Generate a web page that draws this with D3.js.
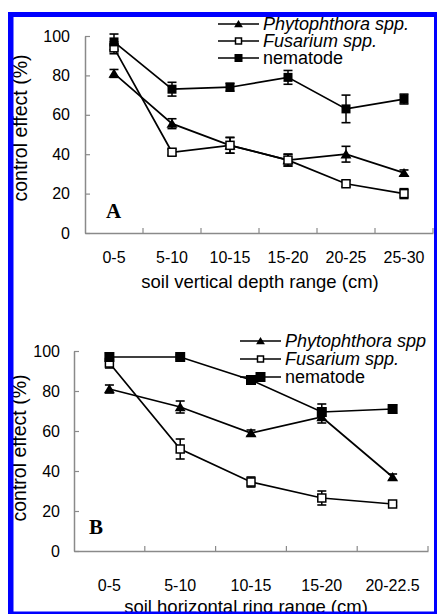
<!DOCTYPE html>
<html><head><meta charset="utf-8">
<script src="https://cdn.jsdelivr.net/npm/d3@7"></script>
<style>body{margin:0;background:#fff}svg{display:block}</style>
</head><body>
<script>
// ---- data ----
const catsA = ["0-5","5-10","10-15","15-20","20-25","25-30"];
const phytoA = [81, 55.5, 44.5, 37, 40, 30.5];
const phytoErrA = [2, 2.5, 4, 3, 4, 1.5];
const fusA = [94, 41, 44.5, 37, 25, 20];
const fusErrA = [3, 1.5, 4, 3, 1.5, 2.5];
const nemA = [97, 73, 74, 79, 63, 68];
const nemErrA = [4, 3.5, 2, 3.5, 7, 2.5];

const catsB = ["0-5","5-10","10-15","15-20","20-22.5"];
const phytoB = [81, 72, 59, 67, 37];
const phytoErrB = [2, 3, 1.5, 3, 1.5];
const fusB = [94, 51, 34.5, 26.5, 23.5];
const fusErrB = [2.5, 5, 2.5, 3.5, 1];
const nemB = [97, 97, 85.5, 69.5, 71];
const nemErrB = [2, 1, 1.5, 4, 2];

const yTicks = [0, 20, 40, 60, 80, 100];
const seriesNames = ["Phytophthora spp.", "Fusarium spp.", "nematode"];
const seriesNamesB = ["Phytophthora spp", "Fusarium spp.", "nematode"];

const W = 437, H = 614;
const svg = d3.select("body").append("svg").attr("width", W).attr("height", H);
const FONT = "'Liberation Sans', Arial, sans-serif";

function marker(g, type, cx, cy, s) {
  if (type === "tri") {
    g.append("path").attr("d", `M${cx},${cy - s*0.5}L${cx + s*0.55},${cy + s*0.42}L${cx - s*0.55},${cy + s*0.42}Z`).attr("fill", "#000");
  } else if (type === "open") {
    g.append("rect").attr("x", cx - s/2).attr("y", cy - s/2).attr("width", s).attr("height", s)
      .attr("fill", "#fff").attr("stroke", "#000").attr("stroke-width", 1.5);
  } else {
    g.append("rect").attr("x", cx - s/2).attr("y", cy - s/2).attr("width", s).attr("height", s).attr("fill", "#000");
  }
}

function panel(cfg) {
  const x = d3.scaleBand().domain(cfg.cats).range([cfg.x0, cfg.x1]).padding(0);
  const y = d3.scaleLinear().domain([0, 100]).range([cfg.yb, cfg.yt]);
  const g = svg.append("g");

  // y axis
  const ya = g.append("g").attr("transform", `translate(${cfg.x0},0)`)
    .call(d3.axisLeft(y).tickValues(yTicks).tickSizeInner(-5).tickSizeOuter(0).tickPadding(cfg.ypad));
  ya.select(".domain").attr("stroke", "#8a8a8a").attr("stroke-width", 1.5);
  ya.selectAll(".tick line").attr("stroke", "#8a8a8a").attr("stroke-width", 1.2);
  ya.selectAll(".tick text").attr("font-family", FONT).attr("font-size", 16).attr("fill", "#000");

  // x axis
  const xa = g.append("g").attr("transform", `translate(0,${cfg.yb})`)
    .call(d3.axisBottom(x).tickSizeInner(0).tickSizeOuter(0).tickPadding(cfg.xpad));
  xa.select(".domain").attr("stroke", "#8a8a8a").attr("stroke-width", 1.5);
  xa.selectAll(".tick text").attr("font-family", FONT).attr("font-size", 16).attr("fill", "#000");
  const bounds = cfg.cats.map(c => x(c) + x.bandwidth());
  g.selectAll(".xt").data(bounds).enter().append("line")
    .attr("x1", d => d).attr("x2", d => d).attr("y1", cfg.yb).attr("y2", cfg.yb - 5)
    .attr("stroke", "#8a8a8a").attr("stroke-width", 1.2);

  // titles
  g.append("text").attr("x", cfg.xtX).attr("y", cfg.xtY).attr("text-anchor", "middle")
    .attr("font-family", FONT).attr("font-size", 18.5).text(cfg.xtitle);
  g.append("text").attr("transform", `translate(${cfg.ytX},${cfg.ytY}) rotate(-90)`).attr("text-anchor", "middle")
    .attr("font-family", FONT).attr("font-size", 19.5).text("control effect (%)");
  g.append("text").attr("x", cfg.lblX).attr("y", cfg.lblY)
    .attr("font-family", "'Liberation Serif', 'Times New Roman', serif").attr("font-weight", "bold")
    .attr("font-size", 21).text(cfg.label);

  const cx = c => x(c) + x.bandwidth() / 2;
  const series = [
    {vals: cfg.phyto, err: cfg.phytoErr, type: "tri", size: cfg.triS},
    {vals: cfg.fus, err: cfg.fusErr, type: "open", size: cfg.openS},
    {vals: cfg.nem, err: cfg.nemErr, type: "fill", size: cfg.fillS}
  ];
  const line = d3.line().x((d, i) => cx(cfg.cats[i])).y(d => y(d));
  series.forEach(s => {
    g.append("path").attr("d", line(s.vals)).attr("fill", "none").attr("stroke", "#000").attr("stroke-width", 1.7);
  });
  series.forEach(s => {
    s.vals.forEach((v, i) => {
      const px = cx(cfg.cats[i]);
      const e = s.err[i];
      g.append("line").attr("x1", px).attr("x2", px).attr("y1", y(v - e)).attr("y2", y(v + e)).attr("stroke", "#000").attr("stroke-width", 1.5);
      [v - e, v + e].forEach(w => g.append("line").attr("x1", px - 4.5).attr("x2", px + 4.5).attr("y1", y(w)).attr("y2", y(w)).attr("stroke", "#000").attr("stroke-width", 1.6));
    });
  });
  series.forEach(s => {
    s.vals.forEach((v, i) => marker(g, s.type, cx(cfg.cats[i]), y(v), s.size));
  });

  // legend
  const types = ["tri", "open", "fill"];
  const lsz = cfg.legSizes;
  cfg.legNames.forEach((name, i) => {
    const ly = cfg.legY[i];
    g.append("line").attr("x1", cfg.legX0).attr("x2", cfg.legX1).attr("y1", ly).attr("y2", ly).attr("stroke", "#000").attr("stroke-width", 1.7);
    marker(g, types[i], (cfg.legX0 + cfg.legX1) / 2, ly, lsz[i]);
    g.append("text").attr("x", cfg.legX1 + 4).attr("y", ly + 6).attr("font-family", FONT).attr("font-size", 18)
      .attr("font-style", i < 2 ? "italic" : "normal").text(name);
  });
}

panel({cats: catsA, x0: 85, x1: 433, yb: 233, yt: 36, ypad: 15, xpad: 18.5,
  phyto: phytoA, phytoErr: phytoErrA, fus: fusA, fusErr: fusErrA, nem: nemA, nemErr: nemErrA,
  triS: 10, openS: 8, fillS: 9,
  xtitle: "soil vertical depth range (cm)", xtX: 260, xtY: 288,
  ytX: 27, ytY: 128, label: "A", lblX: 106, lblY: 218,
  legNames: seriesNames, legX0: 218, legX1: 259, legY: [24, 41, 58], legSizes: [8, 6, 8]});

panel({cats: catsB, x0: 74, x1: 428, yb: 551, yt: 351, ypad: 14, xpad: 29,
  phyto: phytoB, phytoErr: phytoErrB, fus: fusB, fusErr: fusErrB, nem: nemB, nemErr: nemErrB,
  triS: 10, openS: 8, fillS: 10,
  xtitle: "soil horizontal ring range (cm)", xtX: 246, xtY: 613,
  ytX: 26, ytY: 448, label: "B", lblX: 89, lblY: 534,
  legNames: seriesNamesB, legX0: 240, legX1: 281, legY: [341, 359, 377], legSizes: [8, 6, 10]});

// blue frame
const frame = svg.append("g").attr("fill", "#0000ff");
frame.append("rect").attr("x", 8).attr("y", 12).attr("width", 429).attr("height", 5);
frame.append("rect").attr("x", 8).attr("y", 12).attr("width", 5.5).attr("height", 602);
frame.append("rect").attr("x", 434).attr("y", 12).attr("width", 3).attr("height", 602);
frame.append("rect").attr("x", 8).attr("y", 611.5).attr("width", 429).attr("height", 2.5);
</script>
</body></html>
